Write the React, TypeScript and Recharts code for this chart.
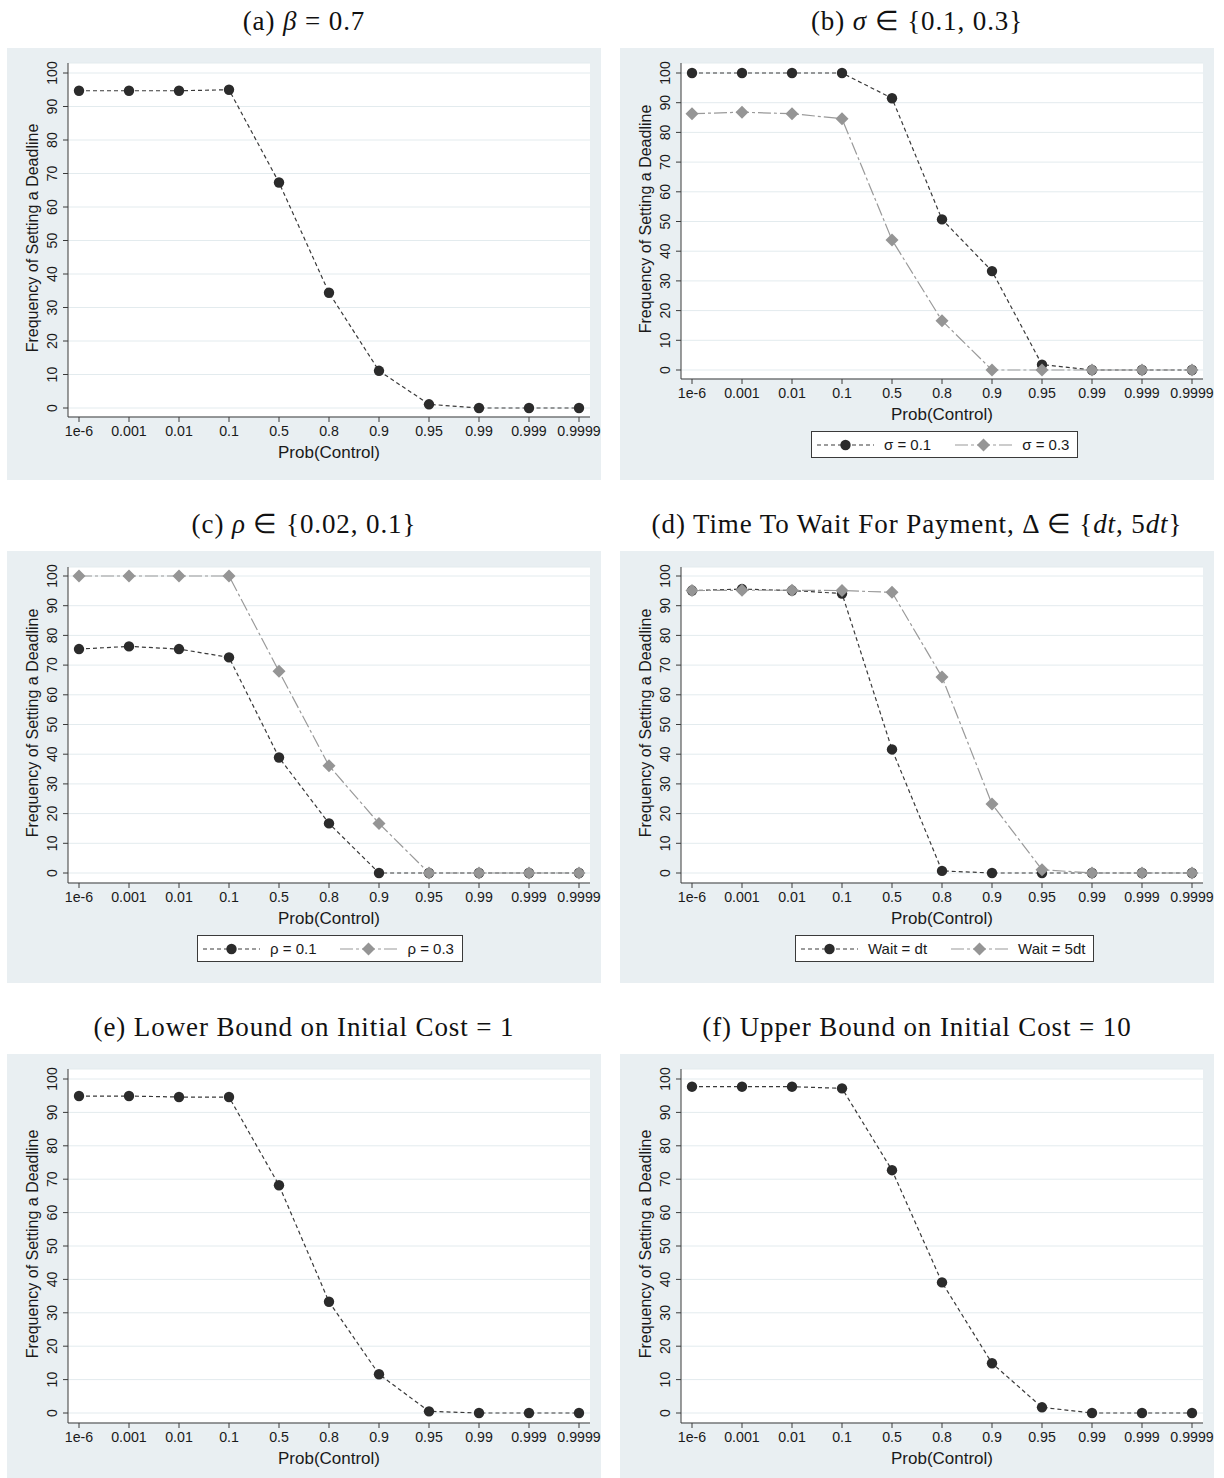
import React from 'react';
import { LineChart, Line, XAxis, YAxis, CartesianGrid } from 'recharts';

// x categories (treated as ordinal labels, evenly spaced)
const probLabels = ['1e-6', '0.001', '0.01', '0.1', '0.5', '0.8', '0.9', '0.95', '0.99', '0.999', '0.9999'];
const freqTicks = [0, 10, 20, 30, 40, 50, 60, 70, 80, 90, 100];

// frequency of setting a deadline (%) per Prob(Control)
const betaBase = [94.7, 94.7, 94.7, 95.0, 67.3, 34.4, 11.1, 1.1, 0, 0, 0];
const sigmaLow = [100, 100, 100, 100, 91.5, 50.7, 33.3, 1.8, 0, 0, 0];
const sigmaHigh = [86.3, 86.8, 86.3, 84.6, 43.8, 16.6, 0, 0, 0, 0, 0];
const rhoLow = [75.4, 76.3, 75.4, 72.6, 38.9, 16.7, 0, 0, 0, 0, 0];
const rhoHigh = [100, 100, 100, 100, 67.9, 36.1, 16.7, 0, 0, 0, 0];
const waitDt = [95.1, 95.6, 95.1, 94.1, 41.6, 0.7, 0, 0, 0, 0, 0];
const wait5dt = [95.1, 95.2, 95.2, 95.1, 94.5, 66.0, 23.2, 1.1, 0, 0, 0];
const lowerCost = [94.9, 94.9, 94.6, 94.6, 68.2, 33.3, 11.6, 0.5, 0, 0, 0];
const upperCost = [97.7, 97.7, 97.7, 97.2, 72.7, 39.1, 14.9, 1.7, 0, 0, 0];

const SANS = '"Liberation Sans", Arial, sans-serif';
const SERIF = '"Liberation Serif", "Times New Roman", serif';
const PANEL_BG = '#e9eff2';
const GRID = '#e3ebee';
const AXIS = '#3a3a3a';
const DARK = '#2b2b2b';
const LIGHT = '#959595';
const TEXT = '#1a1a1a';

type Kind = 'dark' | 'light';
type Series = { key: string; label: string; values: number[]; kind: Kind };

const lineStyle = {
  dark: { stroke: '#3a3a3a', dash: '4 3', fill: DARK },
  light: { stroke: '#9a9a9a', dash: '13 3 3 3', fill: LIGHT },
};

const Marker = ({ cx, cy, kind }: { cx: number; cy: number; kind: Kind }) =>
  kind === 'dark' ? (
    <circle cx={cx} cy={cy} r={5.2} fill={DARK} />
  ) : (
    <polygon points={`${cx},${cy - 6.5} ${cx + 6.5},${cy} ${cx},${cy + 6.5} ${cx - 6.5},${cy}`} fill={LIGHT} />
  );

const XTick = (props: any) => (
  <text x={props.x} y={props.y} dy="0.71em" textAnchor="middle" fontFamily={SANS} fontSize={14.2} fill={TEXT}>
    {props.payload.value}
  </text>
);

const YTick = (props: any) => {
  const cx = props.x - 7;
  return (
    <text
      x={cx}
      y={props.y}
      textAnchor="middle"
      dominantBaseline="central"
      transform={`rotate(-90, ${cx}, ${props.y})`}
      fontFamily={SANS}
      fontSize={14.2}
      fill={TEXT}
    >
      {props.payload.value}
    </text>
  );
};

const xTitle = (p: any) => (
  <text
    x={p.viewBox.x + p.viewBox.width / 2}
    y={p.viewBox.y + 35}
    textAnchor="middle"
    dominantBaseline="central"
    fontFamily={SANS}
    fontSize={17}
    fill={TEXT}
  >
    Prob(Control)
  </text>
);

const yTitle = (p: any) => {
  const x = p.viewBox.x + 25;
  const y = p.viewBox.y + p.viewBox.height / 2 - 2;
  return (
    <text
      x={x}
      y={y}
      textAnchor="middle"
      dominantBaseline="central"
      transform={`rotate(-90, ${x}, ${y})`}
      fontFamily={SANS}
      fontSize={16}
      fill={TEXT}
    >
      Frequency of Setting a Deadline
    </text>
  );
};

const LegendKey = ({ kind }: { kind: Kind }) => (
  <svg width={57} height={16} style={{ display: 'block' }}>
    <line x1={0} y1={8} x2={57} y2={8} stroke={lineStyle[kind].stroke} strokeWidth={1.2} strokeDasharray={lineStyle[kind].dash} />
    <Marker cx={28.5} cy={8} kind={kind} />
  </svg>
);

interface PanelProps {
  left: number;
  top: number;
  height: number;
  plotTop: number;
  plotBottom: number;
  padTop: number;
  padBottom: number;
  title: React.ReactNode;
  series: Series[];
  legendLeft?: number;
}

const BOX_W = 594;
const Y_AXIS_W = 61;
const X_AXIS_H = 50;

const Panel = ({ left, top, height, plotTop, plotBottom, padTop, padBottom, title, series, legendLeft }: PanelProps) => {
  const data = probLabels.map((p, i) => {
    const row: Record<string, string | number> = { p };
    series.forEach(s => (row[s.key] = s.values[i]));
    return row;
  });

  return (
    <>
      <div
        style={{
          position: 'absolute',
          left,
          top: top - 45,
          width: BOX_W,
          height: 36,
          lineHeight: '36px',
          textAlign: 'center',
          fontFamily: SERIF,
          fontSize: 27,
          letterSpacing: 0.9,
          color: '#111',
          whiteSpace: 'nowrap',
        }}
      >
        {title}
      </div>
      <div style={{ position: 'absolute', left, top, width: BOX_W, height, background: PANEL_BG }}>
        <LineChart
          width={BOX_W}
          height={height}
          data={data}
          margin={{ top: plotTop, right: 11, left: 0, bottom: height - plotBottom - X_AXIS_H }}
        >
          <CartesianGrid vertical={false} stroke={GRID} fill="#ffffff" />
          <XAxis
            dataKey="p"
            type="category"
            height={X_AXIS_H}
            padding={{ left: 11, right: 11 }}
            tick={<XTick />}
            tickSize={5}
            tickMargin={4}
            axisLine={{ stroke: AXIS }}
            tickLine={{ stroke: AXIS }}
            interval={0}
            label={xTitle}
          />
          <YAxis
            type="number"
            domain={[0, 100]}
            ticks={freqTicks}
            width={Y_AXIS_W}
            padding={{ top: padTop, bottom: padBottom }}
            tick={<YTick />}
            tickSize={5}
            tickMargin={4}
            axisLine={{ stroke: AXIS }}
            tickLine={{ stroke: AXIS }}
            interval={0}
            label={yTitle}
          />
          {series.map(s => (
            <Line
              key={s.key}
              dataKey={s.key}
              type="linear"
              stroke={lineStyle[s.kind].stroke}
              strokeWidth={1.2}
              strokeDasharray={lineStyle[s.kind].dash}
              isAnimationActive={false}
              activeDot={false}
              dot={(d: any) => <Marker key={`${s.key}-${d.index}`} cx={d.cx} cy={d.cy} kind={s.kind} />}
            />
          ))}
        </LineChart>
        {series.length > 1 && (
          <div
            style={{
              position: 'absolute',
              left: legendLeft,
              top: plotBottom + 52,
              height: 25,
              display: 'flex',
              alignItems: 'center',
              background: '#fff',
              border: `1px solid ${AXIS}`,
              padding: '0 8px 0 5px',
              fontFamily: SANS,
              fontSize: 15,
              color: TEXT,
            }}
          >
            {series.map((s, i) => (
              <div key={s.key} style={{ display: 'flex', alignItems: 'center', marginLeft: i === 0 ? 0 : 24 }}>
                <LegendKey kind={s.kind} />
                <span style={{ marginLeft: 10, whiteSpace: 'nowrap' }}>{s.label}</span>
              </div>
            ))}
          </div>
        )}
      </div>
    </>
  );
};

export default function App() {
  return (
    <div style={{ position: 'absolute', left: 0, top: 0, width: 1224, height: 1478, background: '#fff', overflow: 'hidden' }}>
      <Panel
        left={7}
        top={48}
        height={432}
        plotTop={15}
        plotBottom={369}
        padTop={10}
        padBottom={9}
        title={<>(a) <i>β</i> = 0.7</>}
        series={[{ key: 'beta', label: 'β = 0.7', values: betaBase, kind: 'dark' }]}
      />
      <Panel
        left={620}
        top={48}
        height={432}
        plotTop={15}
        plotBottom={331}
        padTop={10}
        padBottom={9}
        title={<>(b) <i>σ</i> ∈ {'{'}0.1, 0.3{'}'}</>}
        series={[
          { key: 'lo', label: 'σ = 0.1', values: sigmaLow, kind: 'dark' },
          { key: 'hi', label: 'σ = 0.3', values: sigmaHigh, kind: 'light' },
        ]}
        legendLeft={191}
      />
      <Panel
        left={7}
        top={551}
        height={432}
        plotTop={16}
        plotBottom={332}
        padTop={9}
        padBottom={10}
        title={<>(c) <i>ρ</i> ∈ {'{'}0.02, 0.1{'}'}</>}
        series={[
          { key: 'lo', label: 'ρ = 0.1', values: rhoLow, kind: 'dark' },
          { key: 'hi', label: 'ρ = 0.3', values: rhoHigh, kind: 'light' },
        ]}
        legendLeft={190}
      />
      <Panel
        left={620}
        top={551}
        height={432}
        plotTop={16}
        plotBottom={332}
        padTop={9}
        padBottom={10}
        title={<>(d) Time To Wait For Payment, Δ ∈ {'{'}<i>dt</i>, 5<i>dt</i>{'}'}</>}
        series={[
          { key: 'dt', label: 'Wait = dt', values: waitDt, kind: 'dark' },
          { key: 'dt5', label: 'Wait = 5dt', values: wait5dt, kind: 'light' },
        ]}
        legendLeft={175}
      />
      <Panel
        left={7}
        top={1054}
        height={424}
        plotTop={15}
        plotBottom={369}
        padTop={10}
        padBottom={10}
        title={<>(e) Lower Bound on Initial Cost = 1</>}
        series={[{ key: 'lb', label: 'Lower bound', values: lowerCost, kind: 'dark' }]}
      />
      <Panel
        left={620}
        top={1054}
        height={424}
        plotTop={15}
        plotBottom={369}
        padTop={10}
        padBottom={10}
        title={<>(f) Upper Bound on Initial Cost = 10</>}
        series={[{ key: 'ub', label: 'Upper bound', values: upperCost, kind: 'dark' }]}
      />
    </div>
  );
}
